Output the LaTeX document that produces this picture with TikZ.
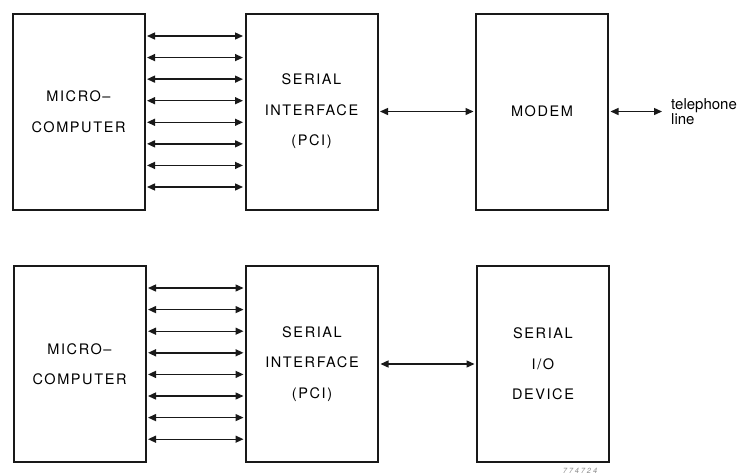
\documentclass[tikz,border=0pt]{standalone}
\usepackage{fontspec}
\setmainfont{TeX Gyre Heros}
\newfontfamily\capsfont[LetterSpace=11]{TeX Gyre Heros}
\usetikzlibrary{arrows.meta}

\begin{document}
\begin{tikzpicture}[x=1pt,y=-1pt,
  block/.style={draw=black!90, line width=2pt, minimum width=132pt,
    minimum height=196pt, inner sep=0pt, align=center,
    font=\capsfont\fontsize{14.5}{30.5}\selectfont},
  link/.style={{Triangle[length=8pt,width=7pt]}-{Triangle[length=8pt,width=7pt]},
    draw=black!90, line width=1.4pt, shorten <=1.5pt, shorten >=1.5pt}]
  \useasboundingbox (0,0) rectangle (742,475);

  % upper system: microcomputer, serial interface, modem
  \node[block] (m1) at (78.5,111.5) {MICRO–\\COMPUTER};
  \node[block] (s1) at (311.5,111.5) {SERIAL\\INTERFACE\\(PCI)};
  \node[block] (d1) at (542,111.5) {MODEM};

  % lower system: microcomputer, serial interface, serial I/O device
  \node[block] (m2) at (79.5,364) {MICRO–\\COMPUTER};
  \node[block] (s2) at (312,364) {SERIAL\\INTERFACE\\(PCI)};
  \node[block] (d2) at (543,364) {SERIAL\\I/O\\DEVICE};

  % parallel bus, eight lines each
  \foreach \k [evaluate=\k as \ya using 36+21.57*\k,
               evaluate=\k as \yb using 288+21.6*\k] in {0,...,7} {
    \draw[link] (m1.east |- 0,\ya) -- (s1.west |- 0,\ya);
    \draw[link] (m2.east |- 0,\yb) -- (s2.west |- 0,\yb);
  }

  % serial links
  \draw[link] (s1.east) -- (d1.west);
  \draw[link] (s2.east) -- (d2.west);

  % telephone line
  \coordinate (tel) at (662,111.5);
  \draw[link, shorten >=0pt] (d1.east) -- (tel);
  \node[anchor=west, align=left, inner sep=0pt,
        font=\fontsize{15}{15}\selectfont] (tl) at (671,111.5) {telephone\\line};

  % figure number
  \node[text=black!45, font=\itshape\fontsize{7.5}{8}\selectfont\addfontfeature{LetterSpace=25}]
    (fig) at (580,471) {774724};
\end{tikzpicture}
\end{document}
